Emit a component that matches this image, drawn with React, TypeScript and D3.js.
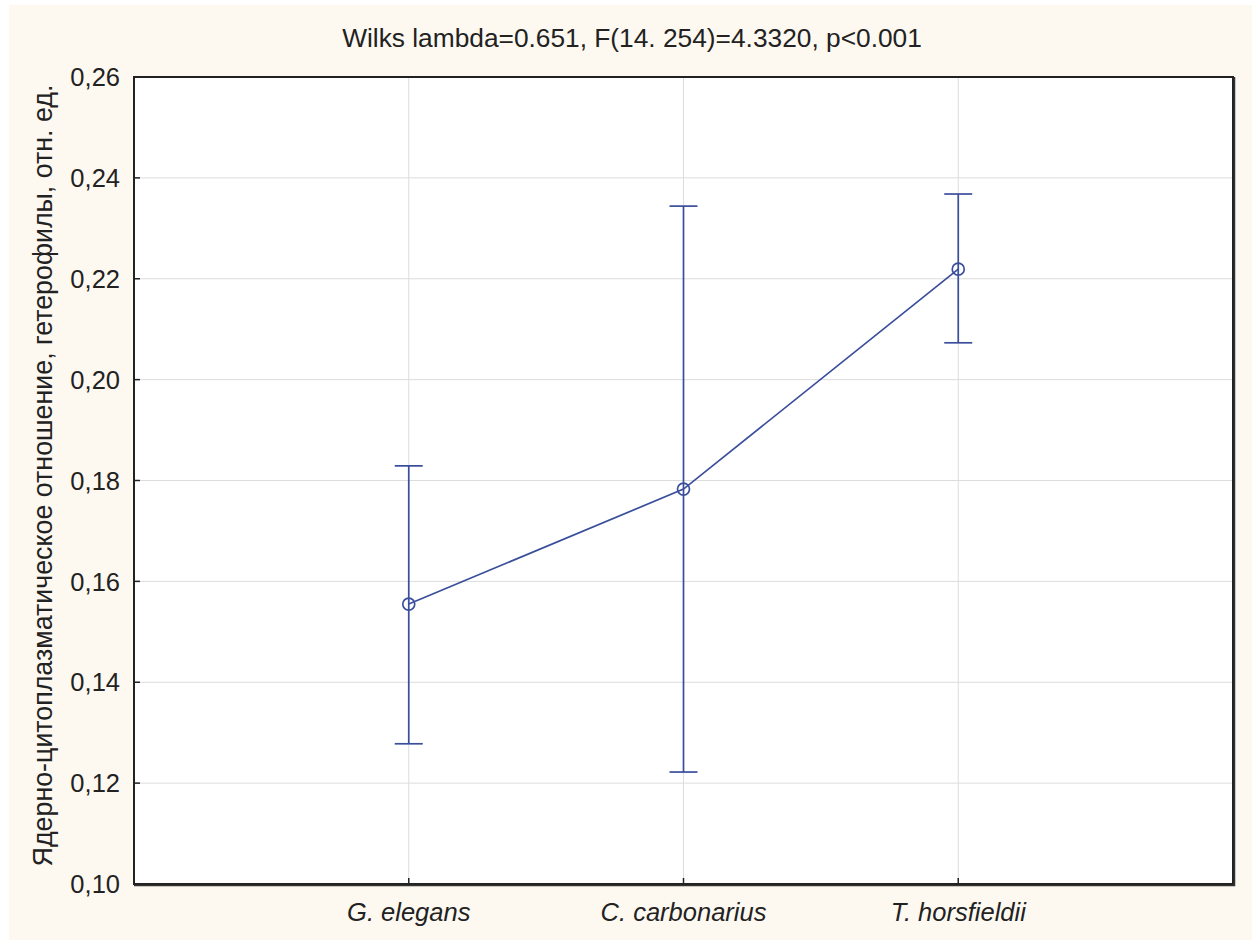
import React, { useEffect, useRef } from 'react';
import * as d3 from 'd3';

// chart data
const categories = ['G. elegans', 'C. carbonarius', 'T. horsfieldii'];
const means = [0.1555, 0.1783, 0.2219];
const upper = [0.1829, 0.2344, 0.2368];
const lower = [0.1278, 0.1222, 0.2073];
const yTicks = [0.1, 0.12, 0.14, 0.16, 0.18, 0.2, 0.22, 0.24, 0.26];

const title = 'Wilks lambda=0.651, F(14. 254)=4.3320, p<0.001';
const yLabel = 'Ядерно-цитоплазматическое отношение, гетерофилы, отн. ед.';

const App = () => {
    const svgRef = useRef(null);

    useEffect(() => {
        const svg = d3.select(svgRef.current);
        svg.selectAll('*').remove();

        const width = 1252;
        const height = 940;
        const left = 134, right = 1233, top = 77, bottom = 884;
        const font = '"Liberation Sans", Arial, sans-serif';
        const blue = '#3a4e9c';

        svg.append('rect')
            .attr('x', 9).attr('y', 5)
            .attr('width', width - 9).attr('height', height - 5)
            .attr('fill', '#fdf9f1');

        const x = d3.scaleLinear().domain([0, categories.length + 1]).range([left, right]);
        const y = d3.scaleLinear().domain([0.1, 0.26]).range([bottom, top]);

        svg.append('rect')
            .attr('x', left).attr('y', top)
            .attr('width', right - left).attr('height', bottom - top)
            .attr('fill', '#ffffff');

        // grid
        svg.append('g')
            .selectAll('line')
            .data(yTicks.slice(1, -1))
            .enter()
            .append('line')
            .attr('x1', left).attr('x2', right)
            .attr('y1', (d) => y(d)).attr('y2', (d) => y(d))
            .attr('stroke', '#dcdcdc').attr('stroke-width', 1);

        svg.append('g')
            .selectAll('line')
            .data(categories)
            .enter()
            .append('line')
            .attr('x1', (d, i) => x(i + 1)).attr('x2', (d, i) => x(i + 1))
            .attr('y1', top).attr('y2', bottom)
            .attr('stroke', '#dcdcdc').attr('stroke-width', 1);

        // inner ticks
        svg.append('g')
            .selectAll('line')
            .data(yTicks)
            .enter()
            .append('line')
            .attr('x1', left).attr('x2', left + 6)
            .attr('y1', (d) => y(d)).attr('y2', (d) => y(d))
            .attr('stroke', '#222').attr('stroke-width', 1.5);

        svg.append('g')
            .selectAll('line')
            .data(categories)
            .enter()
            .append('line')
            .attr('x1', (d, i) => x(i + 1)).attr('x2', (d, i) => x(i + 1))
            .attr('y1', bottom).attr('y2', bottom - 6)
            .attr('stroke', '#222').attr('stroke-width', 1.5);

        // frame
        svg.append('rect')
            .attr('x', left).attr('y', top)
            .attr('width', right - left).attr('height', bottom - top)
            .attr('fill', 'none')
            .attr('stroke', '#222').attr('stroke-width', 2);
        svg.append('path')
            .attr('d', `M${right + 1.5},${top}V${bottom + 1.5}H${left}`)
            .attr('fill', 'none')
            .attr('stroke', '#333').attr('stroke-width', 1.5);

        // tick labels
        svg.append('g')
            .selectAll('text')
            .data(yTicks)
            .enter()
            .append('text')
            .attr('x', left - 14)
            .attr('y', (d) => y(d))
            .attr('dy', '0.36em')
            .attr('text-anchor', 'end')
            .style('font-family', font)
            .style('font-size', '25.5px')
            .attr('fill', '#222')
            .text((d) => d3.format('.2f')(d).replace('.', ','));

        svg.append('g')
            .selectAll('text')
            .data(categories)
            .enter()
            .append('text')
            .attr('x', (d, i) => x(i + 1))
            .attr('y', 921)
            .attr('text-anchor', 'middle')
            .style('font-family', font)
            .style('font-size', '25.5px')
            .style('font-style', 'italic')
            .attr('fill', '#222')
            .text((d) => d);

        svg.append('text')
            .attr('x', 632)
            .attr('y', 47)
            .attr('text-anchor', 'middle')
            .style('font-family', font)
            .style('font-size', '26.3px')
            .attr('fill', '#222')
            .text(title);

        svg.append('text')
            .attr('transform', `translate(52,${(top + bottom) / 2 - 5}) rotate(-90)`)
            .attr('text-anchor', 'middle')
            .style('font-family', font)
            .style('font-size', '26.8px')
            .attr('fill', '#222')
            .text(yLabel);

        // error bars
        const bars = svg.append('g')
            .attr('stroke', blue)
            .attr('stroke-width', 1.7)
            .attr('fill', 'none');
        categories.forEach((c, i) => {
            const cx = x(i + 1);
            bars.append('line')
                .attr('x1', cx).attr('x2', cx)
                .attr('y1', y(lower[i])).attr('y2', y(upper[i]));
            [lower[i], upper[i]].forEach((v) => {
                bars.append('line')
                    .attr('x1', cx - 14).attr('x2', cx + 14)
                    .attr('y1', y(v)).attr('y2', y(v));
            });
        });

        const line = d3.line()
            .x((d, i) => x(i + 1))
            .y((d) => y(d));

        svg.append('path')
            .datum(means)
            .attr('d', line)
            .attr('fill', 'none')
            .attr('stroke', blue)
            .attr('stroke-width', 1.7);

        svg.append('g')
            .selectAll('circle')
            .data(means)
            .enter()
            .append('circle')
            .attr('cx', (d, i) => x(i + 1))
            .attr('cy', (d) => y(d))
            .attr('r', 6)
            .attr('fill', 'none')
            .attr('stroke', blue)
            .attr('stroke-width', 1.7);
    }, []);

    return (
        <div style={{ position: 'absolute', left: 0, top: 0 }}>
            <svg ref={svgRef} width={1252} height={940} style={{ display: 'block' }} />
        </div>
    );
};

export default App;
